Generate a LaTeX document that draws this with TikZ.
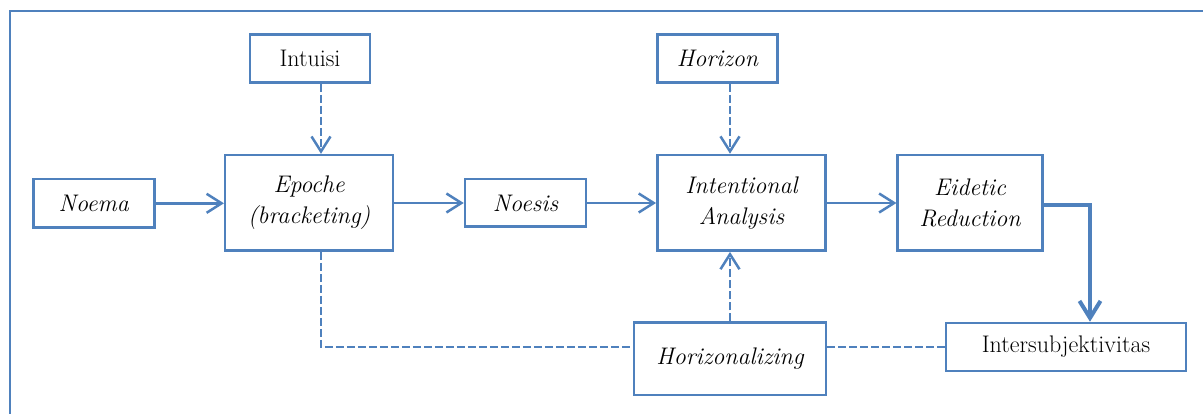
\documentclass[tikz,border=0pt]{standalone}
\usetikzlibrary{arrows.meta}
\definecolor{myblue}{RGB}{79,129,189}
\begin{document}
\begin{tikzpicture}[x=1pt,y=-1pt,
  box/.style={draw=myblue, line width=2.5pt, fill=white, inner sep=0pt, align=center,
    font=\fontsize{24}{31}\selectfont},
  itbox/.style={box, font=\fontsize{24}{31}\selectfont\itshape},
  conn/.style={draw=myblue, line width=2.5pt},
  arr/.style={conn, -{Straight Barb[length=15pt,width=19pt,line width=2.5pt]}},
  dasharr/.style={arr, dash pattern=on 8pt off 3pt},
  dashline/.style={conn, dash pattern=on 8pt off 3pt},
  thickarr/.style={draw=myblue, line width=4pt, -{Straight Barb[length=17pt,width=21pt,line width=4pt]}}
]
\useasboundingbox (0,0) rectangle (1203,414);
\draw[myblue, line width=2.5pt] (9.8,420) -- (9.8,11) -- (1210,11);

\node[itbox, minimum width=121pt, minimum height=48.5pt] (noema) at (93.8,203.3) {Noema};
\node[itbox, minimum width=168pt, minimum height=95.5pt] (epoche) at (309.2,202.8) {Epoche\\(bracketing)};
\node[box, minimum width=120pt, minimum height=48.4pt] (intuisi) at (310,58.5) {Intuisi};
\node[itbox, minimum width=121pt, minimum height=47.5pt] (noesis) at (525.5,203) {Noesis};
\node[itbox, minimum width=168.4pt, minimum height=95.7pt] (intent) at (741.5,202.8) {Intentional\\Analysis};
\node[itbox, minimum width=120.4pt, minimum height=48.4pt] (horizon) at (717.5,58.5) {Horizon};
\node[itbox, minimum width=144.6pt, minimum height=95.7pt] (eidetic) at (970,202.8) {Eidetic\\Reduction};
\node[itbox, minimum width=192pt, minimum height=72.3pt] (hzing) at (730,358.8) {Horizonalizing};
\node[box, minimum width=240pt, minimum height=48pt] (inter) at (1066,347) {Intersubjektivitas};

\coordinate (c1) at (321,0);
\coordinate (c2) at (730,0);
\coordinate (c3) at (1090,0);

\draw[arr] (noema.east) -- (noema.east -| epoche.west);
\draw[arr] (epoche.east |- noesis.west) -- (noesis.west);
\draw[arr] (noesis.east) -- (noesis.east -| intent.west);
\draw[arr] (intent.east |- noesis.east) -- (noesis.east -| eidetic.west);

\draw[dasharr] (c1 |- intuisi.south) -- (c1 |- epoche.north);
\draw[dasharr] (c2 |- horizon.south) -- (c2 |- intent.north);
\draw[dasharr] (hzing.north) -- (hzing.north |- intent.south);

\draw[dashline] (c1 |- epoche.south) |- (hzing.west |- inter.west);
\draw[dashline] (hzing.east |- inter.west) -- (inter.west);

\draw[thickarr] ([yshift=-2pt]eidetic.east) -| (c3 |- inter.north);
\end{tikzpicture}
\end{document}
